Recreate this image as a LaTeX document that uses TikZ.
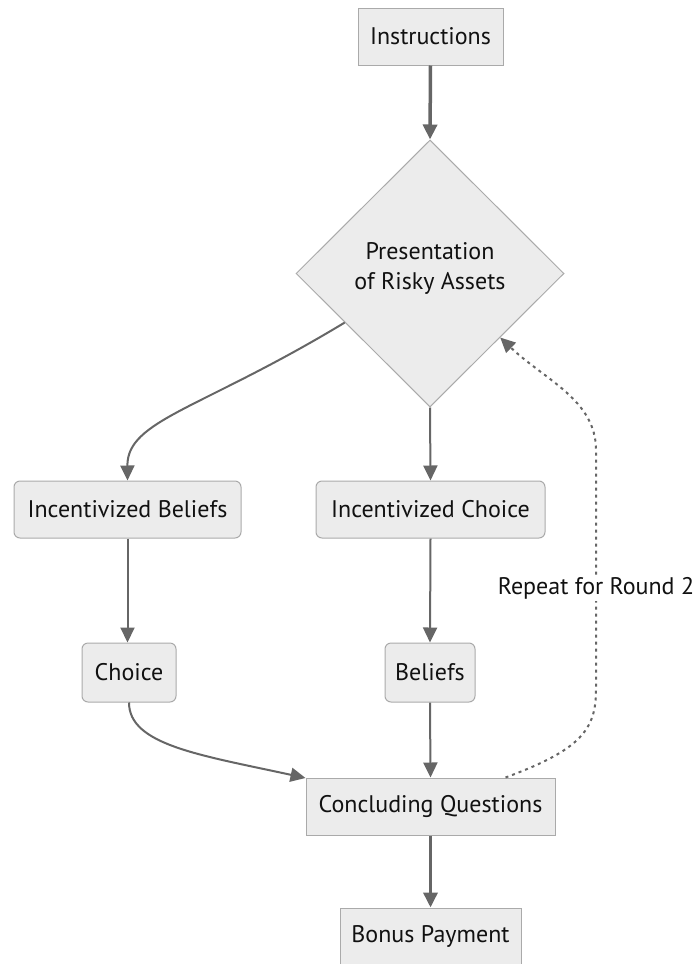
\documentclass[tikz,border=0pt]{standalone}
\usepackage{fontspec}
\setmainfont{PT Sans}
\usetikzlibrary{arrows.meta,shapes.geometric,calc}
\definecolor{boxfill}{HTML}{ECECEC}
\definecolor{boxline}{HTML}{AAAAAA}
\definecolor{edgecol}{HTML}{666666}
\definecolor{txt}{HTML}{111111}
\begin{document}
\begin{tikzpicture}[x=1pt,y=-1pt,
  every node/.style={font=\fontsize{24}{30}\selectfont, text=txt},
  sqbox/.style={draw=boxline, fill=boxfill, line width=1pt, inner sep=0pt},
  rbox/.style={sqbox, rounded corners=6pt},
  decis/.style={diamond, draw=boxline, fill=boxfill, line width=1pt, inner sep=0pt, aspect=1},
  edge/.style={draw=edgecol, line width=2pt, -{Triangle[length=15pt,width=14pt]}},
  thickedge/.style={draw=edgecol, line width=3.5pt, -{Triangle[length=15pt,width=14pt]}},
  dotedge/.style={draw=edgecol, line width=2pt, dash pattern=on 3pt off 4pt, -{Triangle[length=15pt,width=14pt]}},
  lab/.style={fill=white, inner sep=2pt}
]
\useasboundingbox (0,0) rectangle (700,964);
\node[sqbox, minimum width=145pt, minimum height=57pt] (ins) at (430.5,36.5) {Instructions};
\node[decis, minimum width=268pt, minimum height=267pt] (pres) at (430,273.5) {};
\node[align=center] (prestxt) at (430,268) {Presentation\\of Risky Assets};
\node[rbox, minimum width=227pt, minimum height=57pt] (ib) at (127.5,509.5) {Incentivized Beliefs};
\node[rbox, minimum width=229pt, minimum height=57pt] (ic) at (430.5,509.5) {Incentivized Choice};
\node[rbox, minimum width=94pt, minimum height=59pt] (ch) at (129,672.5) {Choice};
\node[rbox, minimum width=90pt, minimum height=59pt] (be) at (430,672.5) {Beliefs};
\node[sqbox, minimum width=249pt, minimum height=57pt] (cq) at (430.5,806.5) {Concluding Questions};
\node[sqbox, minimum width=181pt, minimum height=57pt] (bp) at (430.5,936.5) {Bonus Payment};

\coordinate (p1) at ($(pres.west)!0.366!(pres.south)$);
\coordinate (p2) at ($(pres.east)!0.478!(pres.south)$);
\coordinate (q1) at ($(cq.north west)!0.8!(cq.north east)$);

\draw[thickedge] (ins.south) -- (pres.north);
\draw[edge] (p1) .. controls (200,410) and (127,420) .. (ib.north -| 127.5,0);
\draw[edge] (pres.south) -- (ic.north);
\draw[edge] (ib.south) -- (ch.north -| ib.south);
\draw[edge] (ic.south) -- (be.north);
\draw[edge] (ch.south) .. controls (129,745) and (200,755) .. (cq.west |- 0,778);
\draw[edge] (be.south) -- (cq.north);
\draw[thickedge] (cq.south) -- (bp.north);
\draw[dotedge] (q1) .. controls (580,750) and (596,730) .. (596,690) -- (596,450) .. controls (596,400) and (545,380) .. (p2);
\node[lab] (rep) at (596,588) {Repeat for Round 2};
\end{tikzpicture}
\end{document}
